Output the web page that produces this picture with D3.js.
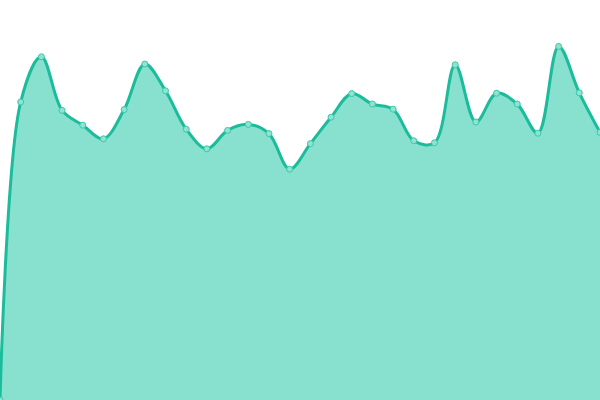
<!DOCTYPE html>
<html>
<head>
<meta charset="utf-8">
<script src="https://cdn.jsdelivr.net/npm/d3@7"></script>
<style>
  html, body { margin: 0; padding: 0; background: #fff; }
  svg { display: block; }
</style>
</head>
<body>
<div id="chart"></div>
<script>
// one value per step, evenly spaced across the width
const steps = d3.range(30);
const values = [
  0, 74.5, 85.8, 72.4, 68.7, 65.3, 72.6, 84.0, 77.3, 67.7,
  62.8, 67.4, 68.9, 66.6, 57.7, 64.1, 70.7, 76.6, 74.0, 72.7,
  64.8, 64.3, 83.8, 69.5, 76.7, 74.0, 66.7, 88.4, 76.8, 66.9
];

const width = 600;
const height = 400;

const data = steps.map((s, i) => ({ step: s, value: values[i] }));

const svg = d3.select("#chart")
  .append("svg")
  .attr("width", width)
  .attr("height", height);

const x = d3.scaleLinear()
  .domain([0, steps.length - 1])
  .range([0, width]);

const y = d3.scaleLinear()
  .domain([0, 100])
  .range([height, 0]);

const area = d3.area()
  .curve(d3.curveCatmullRom)
  .x((d) => x(d.step))
  .y0(y(0))
  .y1((d) => y(d.value));

const line = d3.line()
  .curve(d3.curveCatmullRom)
  .x((d) => x(d.step))
  .y((d) => y(d.value));

svg.append("path")
  .datum(data)
  .attr("fill", "#88e0cf")
  .attr("d", area);

svg.append("path")
  .datum(data)
  .attr("fill", "none")
  .attr("stroke", "#1abc9c")
  .attr("stroke-width", 3)
  .attr("stroke-linejoin", "round")
  .attr("stroke-linecap", "round")
  .attr("d", line);

svg.selectAll("circle")
  .data(data)
  .join("circle")
  .attr("cx", (d) => x(d.step))
  .attr("cy", (d) => y(d.value))
  .attr("r", 3)
  .attr("fill", "#8fe3d2")
  .attr("stroke", "#3cc8a8")
  .attr("stroke-width", 1);
</script>
</body>
</html>
